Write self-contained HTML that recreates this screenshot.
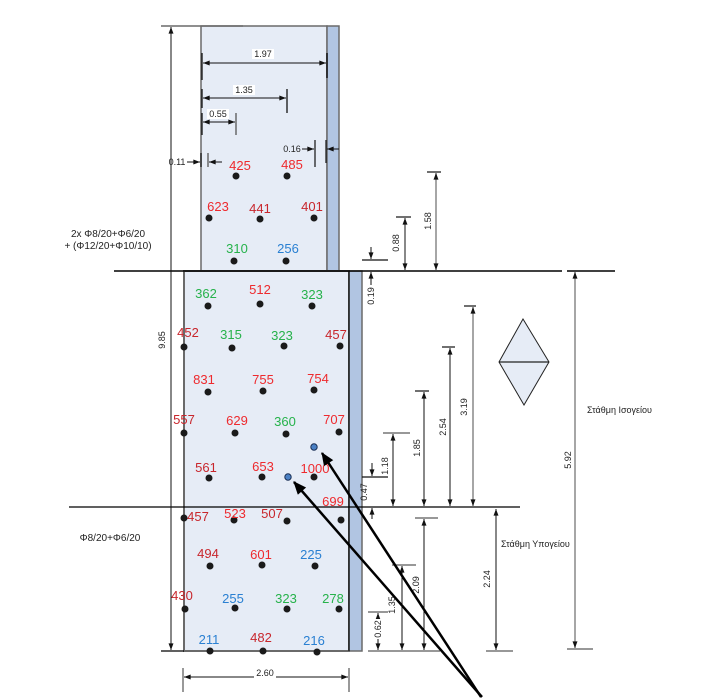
<!DOCTYPE html>
<html><head><meta charset="utf-8"><style>
html,body{margin:0;padding:0;background:#fff;}
svg{display:block;}
text{font-family:"Liberation Sans",Arial,sans-serif;}
.v{font-size:13px;text-anchor:middle;}
.r{fill:#ee2a2e;}.dr{fill:#c8262c;}.g{fill:#26b24b;}.b{fill:#2a80d2;}
.d{font-size:9px;fill:#222;text-anchor:middle;}
.dl{stroke:#111;stroke-width:1;fill:none;}
.gl{stroke:#808080;stroke-width:1.4;fill:none;}
</style></head><body>
<svg width="703" height="698" viewBox="0 0 703 698" xmlns="http://www.w3.org/2000/svg">
<defs>
<marker id="a" viewBox="0 0 8 6" refX="8" refY="3" markerWidth="7" markerHeight="5" markerUnits="userSpaceOnUse" orient="auto-start-reverse"><path d="M0,0 L8,3 L0,6 z" fill="#111"/></marker>
<marker id="B" viewBox="0 0 12 10" refX="11" refY="5" markerWidth="14" markerHeight="11" markerUnits="userSpaceOnUse" orient="auto"><path d="M0,0 L12,5 L0,10 z" fill="#000"/></marker>
</defs>

<!-- upper block -->
<rect x="201" y="26" width="126" height="245" fill="#e6ecf6" stroke="#6a6a6a" stroke-width="1.5"/>
<rect x="327" y="26" width="12" height="245" fill="#b1c5e2" stroke="#6a6a6a" stroke-width="1.5"/>
<!-- lower block -->
<rect x="184" y="271" width="165" height="380" fill="#e6ecf6" stroke="#6a6a6a" stroke-width="2"/>
<rect x="349" y="271" width="13" height="380" fill="#b1c5e2" stroke="#6a6a6a" stroke-width="1.5"/>
<line x1="349" y1="271" x2="349" y2="651" stroke="#111" stroke-width="1.3"/>

<!-- main horizontal lines -->
<line x1="114" y1="271" x2="562" y2="271" stroke="#000" stroke-width="1.5"/>
<line x1="567" y1="271" x2="615" y2="271" stroke="#000" stroke-width="1.5"/>
<line x1="69" y1="507" x2="520" y2="507" stroke="#000" stroke-width="1.3"/>
<line x1="161" y1="651" x2="184" y2="651" stroke="#000" stroke-width="1.3"/>
<line x1="161" y1="26" x2="243" y2="26" stroke="#6a6a6a" stroke-width="1.5"/>

<!-- 9.85 -->
<line class="dl" x1="171" y1="27" x2="171" y2="650" marker-start="url(#a)" marker-end="url(#a)"/>
<text class="d" transform="translate(162,340) rotate(-90)" dominant-baseline="central">9.85</text>

<!-- top dims -->
<line x1="202" y1="53" x2="202" y2="80" stroke="#111" stroke-width="1.3"/>
<line x1="327" y1="53" x2="327" y2="78" stroke="#111" stroke-width="1.5"/>
<line class="dl" x1="203" y1="63" x2="326" y2="63" marker-start="url(#a)" marker-end="url(#a)"/>
<rect x="252" y="49" width="22" height="10" fill="#fff"/>
<text class="d" x="263" y="57">1.97</text>

<line x1="202" y1="89" x2="202" y2="108" stroke="#111" stroke-width="1.3"/>
<line x1="287" y1="89" x2="287" y2="113" stroke="#111" stroke-width="1.3"/>
<line class="dl" x1="203" y1="98" x2="286" y2="98" marker-start="url(#a)" marker-end="url(#a)"/>
<rect x="233" y="85" width="22" height="10" fill="#fff"/>
<text class="d" x="244" y="93">1.35</text>

<line x1="202" y1="113" x2="202" y2="135" stroke="#111" stroke-width="1.3"/>
<line x1="236" y1="113" x2="236" y2="135" stroke="#555" stroke-width="1.3"/>
<line class="dl" x1="203" y1="122" x2="235" y2="122" marker-start="url(#a)" marker-end="url(#a)"/>
<rect x="207" y="109" width="22" height="10" fill="#fff"/>
<text class="d" x="218" y="117">0.55</text>

<text class="d" x="292" y="152">0.16</text>
<line class="dl" x1="302" y1="149" x2="314" y2="149" marker-end="url(#a)"/>
<line x1="315" y1="140" x2="315" y2="167" stroke="#111" stroke-width="1.2"/>
<line x1="326" y1="140" x2="326" y2="163" stroke="#111" stroke-width="1.2"/>
<line class="dl" x1="339" y1="149" x2="327" y2="149" marker-end="url(#a)"/>

<text class="d" x="177" y="165">0.11</text>
<line class="dl" x1="187" y1="162" x2="200" y2="162" marker-end="url(#a)"/>
<line x1="201" y1="153" x2="201" y2="167" stroke="#111" stroke-width="1.3"/>
<line x1="208" y1="153" x2="208" y2="167" stroke="#555" stroke-width="1.3"/>
<line class="dl" x1="222" y1="162" x2="209" y2="162" marker-end="url(#a)"/>

<!-- right dims upper -->
<line class="dl" x1="371" y1="247" x2="371" y2="259" marker-end="url(#a)"/>
<line x1="362" y1="260" x2="388" y2="260" stroke="#111" stroke-width="1.2"/>
<line class="dl" x1="371" y1="285" x2="371" y2="272" marker-end="url(#a)"/>
<text class="d" transform="translate(371,296) rotate(-90)" dominant-baseline="central">0.19</text>

<line x1="396" y1="217" x2="411" y2="217" stroke="#111" stroke-width="1.2"/>
<line class="dl" x1="405" y1="218" x2="405" y2="270" marker-start="url(#a)" marker-end="url(#a)"/>
<text class="d" transform="translate(396,243) rotate(-90)" dominant-baseline="central">0.88</text>

<line x1="427" y1="172" x2="441" y2="172" stroke="#111" stroke-width="1.2"/>
<line class="gl" x1="436" y1="173" x2="436" y2="270" marker-start="url(#a)" marker-end="url(#a)"/>
<text class="d" transform="translate(428,221) rotate(-90)" dominant-baseline="central">1.58</text>

<!-- right dims middle -->
<line x1="464" y1="306" x2="476" y2="306" stroke="#111" stroke-width="1.2"/>
<line class="gl" x1="473" y1="307" x2="473" y2="506" marker-start="url(#a)" marker-end="url(#a)"/>
<text class="d" transform="translate(464,407) rotate(-90)" dominant-baseline="central">3.19</text>

<line x1="442" y1="347" x2="455" y2="347" stroke="#111" stroke-width="1.2"/>
<line class="dl" x1="450" y1="348" x2="450" y2="506" marker-start="url(#a)" marker-end="url(#a)"/>
<text class="d" transform="translate(443,427) rotate(-90)" dominant-baseline="central">2.54</text>

<line x1="415" y1="391" x2="429" y2="391" stroke="#111" stroke-width="1.2"/>
<line class="dl" x1="424" y1="392" x2="424" y2="506" marker-start="url(#a)" marker-end="url(#a)"/>
<text class="d" transform="translate(417,448) rotate(-90)" dominant-baseline="central">1.85</text>

<line x1="383" y1="433" x2="410" y2="433" stroke="#777" stroke-width="1.5"/>
<line class="dl" x1="393" y1="434" x2="393" y2="506" marker-start="url(#a)" marker-end="url(#a)"/>
<text class="d" transform="translate(385,466) rotate(-90)" dominant-baseline="central">1.18</text>

<line class="dl" x1="372" y1="463" x2="372" y2="476" marker-end="url(#a)"/>
<line x1="362" y1="477" x2="388" y2="477" stroke="#111" stroke-width="1.2"/>
<line class="dl" x1="372" y1="519" x2="372" y2="508" marker-end="url(#a)"/>
<text class="d" transform="translate(364,492) rotate(-90)" dominant-baseline="central">0.47</text>

<!-- 5.92 -->
<line class="gl" x1="575" y1="272" x2="575" y2="648" marker-start="url(#a)" marker-end="url(#a)"/>
<line x1="567" y1="649" x2="593" y2="649" stroke="#777" stroke-width="1.4"/>
<text class="d" transform="translate(568,460) rotate(-90)" dominant-baseline="central">5.92</text>
<text x="587" y="413" style="font-size:9px;fill:#222">Στάθμη Ισογείου</text>

<!-- diamond -->
<polygon points="523,319 549,362 524,405 499,362" fill="#e6ecf6" stroke="#222" stroke-width="1"/>
<line x1="499" y1="362" x2="549" y2="362" stroke="#222" stroke-width="1.2"/>

<!-- lower right dims -->
<line class="dl" x1="496" y1="509" x2="496" y2="650" marker-start="url(#a)" marker-end="url(#a)"/>
<line x1="486" y1="651" x2="513" y2="651" stroke="#777" stroke-width="1.5"/>
<text class="d" transform="translate(487,579) rotate(-90)" dominant-baseline="central">2.24</text>
<text x="501" y="547" style="font-size:9px;fill:#222">Στάθμη Υπογείου</text>

<line x1="415" y1="518" x2="438" y2="518" stroke="#777" stroke-width="1.5"/>
<line class="dl" x1="424" y1="519" x2="424" y2="650" marker-start="url(#a)" marker-end="url(#a)"/>
<text class="d" transform="translate(416,585) rotate(-90)" dominant-baseline="central">2.09</text>

<line x1="392" y1="565" x2="416" y2="565" stroke="#777" stroke-width="1.5"/>
<line class="dl" x1="402" y1="566" x2="402" y2="650" marker-start="url(#a)" marker-end="url(#a)"/>
<text class="d" transform="translate(392,605) rotate(-90)" dominant-baseline="central">1.35</text>

<line x1="368" y1="612" x2="388" y2="612" stroke="#777" stroke-width="1.5"/>
<line class="dl" x1="378" y1="613" x2="378" y2="650" marker-start="url(#a)" marker-end="url(#a)"/>
<rect x="373" y="619" width="10" height="20" fill="#fff"/>
<text class="d" transform="translate(378,629) rotate(-90)" dominant-baseline="central">0.62</text>
<line x1="368" y1="651" x2="440" y2="651" stroke="#777" stroke-width="1.5"/>

<!-- 2.60 -->
<line x1="183" y1="668" x2="183" y2="692" stroke="#555" stroke-width="1.2"/>
<line x1="349" y1="668" x2="349" y2="692" stroke="#555" stroke-width="1.2"/>
<line class="dl" x1="184" y1="677" x2="348" y2="677" marker-start="url(#a)" marker-end="url(#a)"/>
<rect x="254" y="668" width="22" height="10" fill="#fff"/>
<text class="d" x="265" y="676">2.60</text>

<!-- left notes -->
<text x="108" y="237" style="font-size:10px;fill:#222;text-anchor:middle">2x Φ8/20+Φ6/20</text>
<text x="108" y="249" style="font-size:10px;fill:#222;text-anchor:middle">+ (Φ12/20+Φ10/10)</text>
<text x="110" y="541" style="font-size:10px;fill:#222;text-anchor:middle">Φ8/20+Φ6/20</text>

<!-- dots -->
<g fill="#1a1a1a">
<circle cx="236" cy="176" r="3.5"/><circle cx="287" cy="176" r="3.5"/>
<circle cx="209" cy="218" r="3.5"/><circle cx="260" cy="219" r="3.5"/><circle cx="314" cy="218" r="3.5"/>
<circle cx="234" cy="261" r="3.5"/><circle cx="286" cy="261" r="3.5"/>
<circle cx="208" cy="306" r="3.5"/><circle cx="260" cy="304" r="3.5"/><circle cx="312" cy="306" r="3.5"/>
<circle cx="184" cy="347" r="3.5"/><circle cx="232" cy="348" r="3.5"/><circle cx="284" cy="346" r="3.5"/><circle cx="340" cy="346" r="3.5"/>
<circle cx="208" cy="392" r="3.5"/><circle cx="263" cy="391" r="3.5"/><circle cx="314" cy="390" r="3.5"/>
<circle cx="184" cy="433" r="3.5"/><circle cx="235" cy="433" r="3.5"/><circle cx="286" cy="434" r="3.5"/><circle cx="339" cy="432" r="3.5"/>
<circle cx="209" cy="478" r="3.5"/><circle cx="262" cy="477" r="3.5"/><circle cx="314" cy="477" r="3.5"/>
<circle cx="184" cy="518" r="3.5"/><circle cx="234" cy="520" r="3.5"/><circle cx="287" cy="521" r="3.5"/><circle cx="341" cy="520" r="3.5"/>
<circle cx="210" cy="566" r="3.5"/><circle cx="262" cy="565" r="3.5"/><circle cx="315" cy="566" r="3.5"/>
<circle cx="185" cy="609" r="3.5"/><circle cx="235" cy="608" r="3.5"/><circle cx="287" cy="609" r="3.5"/><circle cx="339" cy="609" r="3.5"/>
<circle cx="210" cy="651" r="3.5"/><circle cx="263" cy="651" r="3.5"/><circle cx="317" cy="652" r="3.5"/>
</g>
<circle cx="314" cy="447" r="3.2" fill="#4a80c4" stroke="#1a2f55" stroke-width="1"/>
<circle cx="288" cy="477" r="3.2" fill="#4a80c4" stroke="#1a2f55" stroke-width="1"/>

<!-- value labels -->
<text class="v r" x="240" y="170">425</text>
<text class="v r" x="292" y="169">485</text>
<text class="v r" x="218" y="211">623</text>
<text class="v dr" x="260" y="213">441</text>
<text class="v dr" x="312" y="211">401</text>
<text class="v g" x="237" y="253">310</text>
<text class="v b" x="288" y="253">256</text>
<text class="v g" x="206" y="298">362</text>
<text class="v r" x="260" y="294">512</text>
<text class="v g" x="312" y="299">323</text>
<text class="v dr" x="188" y="337">452</text>
<text class="v g" x="231" y="339">315</text>
<text class="v g" x="282" y="340">323</text>
<text class="v dr" x="336" y="339">457</text>
<text class="v r" x="204" y="384">831</text>
<text class="v r" x="263" y="384">755</text>
<text class="v r" x="318" y="383">754</text>
<text class="v dr" x="184" y="424">557</text>
<text class="v r" x="237" y="425">629</text>
<text class="v g" x="285" y="426">360</text>
<text class="v r" x="334" y="424">707</text>
<text class="v dr" x="206" y="472">561</text>
<text class="v r" x="263" y="471">653</text>
<text class="v r" x="315" y="473">1000</text>
<text class="v r" x="333" y="506">699</text>
<text class="v dr" x="198" y="521">457</text>
<text class="v r" x="235" y="518">523</text>
<text class="v dr" x="272" y="518">507</text>
<text class="v dr" x="208" y="558">494</text>
<text class="v r" x="261" y="559">601</text>
<text class="v b" x="311" y="559">225</text>
<text class="v dr" x="182" y="600">430</text>
<text class="v b" x="233" y="603">255</text>
<text class="v g" x="286" y="603">323</text>
<text class="v g" x="333" y="603">278</text>
<text class="v b" x="209" y="644">211</text>
<text class="v dr" x="261" y="642">482</text>
<text class="v b" x="314" y="645">216</text>

<!-- big arrows -->
<line x1="481" y1="697" x2="322" y2="453" stroke="#000" stroke-width="2.5" marker-end="url(#B)"/>
<line x1="482" y1="697" x2="294" y2="482" stroke="#000" stroke-width="2.5" marker-end="url(#B)"/>
</svg>
</body></html>
